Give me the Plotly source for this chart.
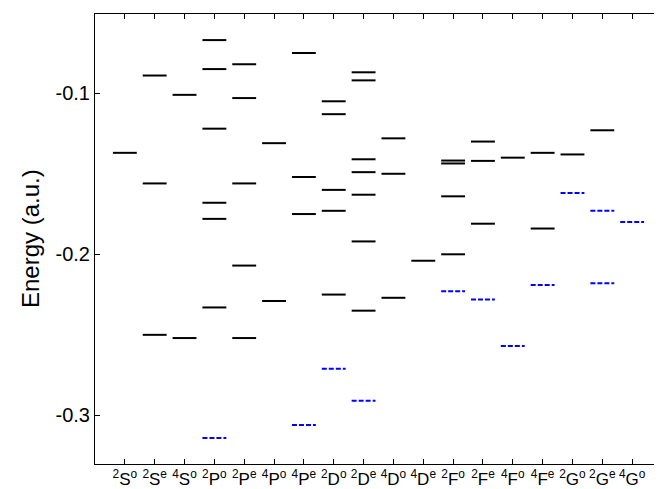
import plotly.graph_objects as go

terms = ["<sup>2</sup>S<sup>o</sup>", "<sup>2</sup>S<sup>e</sup>", "<sup>4</sup>S<sup>o</sup>",
         "<sup>2</sup>P<sup>o</sup>", "<sup>2</sup>P<sup>e</sup>", "<sup>4</sup>P<sup>o</sup>",
         "<sup>4</sup>P<sup>e</sup>", "<sup>2</sup>D<sup>o</sup>", "<sup>2</sup>D<sup>e</sup>",
         "<sup>4</sup>D<sup>o</sup>", "<sup>4</sup>D<sup>e</sup>", "<sup>2</sup>F<sup>o</sup>",
         "<sup>2</sup>F<sup>e</sup>", "<sup>4</sup>F<sup>o</sup>", "<sup>4</sup>F<sup>e</sup>",
         "<sup>2</sup>G<sup>o</sup>", "<sup>2</sup>G<sup>e</sup>", "<sup>4</sup>G<sup>o</sup>"]

# black (solid) levels per term
bound_levels = [
    [-0.137],
    [-0.089, -0.156, -0.250],
    [-0.101, -0.252],
    [-0.067, -0.085, -0.122, -0.168, -0.178, -0.233],
    [-0.082, -0.103, -0.156, -0.207, -0.252],
    [-0.131, -0.229],
    [-0.075, -0.152, -0.175],
    [-0.105, -0.113, -0.160, -0.173, -0.225],
    [-0.087, -0.092, -0.141, -0.149, -0.163, -0.192, -0.235],
    [-0.128, -0.150, -0.227],
    [-0.204],
    [-0.1418, -0.1436, -0.164, -0.200],
    [-0.130, -0.142, -0.181],
    [-0.140],
    [-0.137, -0.184],
    [-0.138],
    [-0.123],
    [],
]

# blue (dashed) levels per term
dashed_levels = [
    [], [], [],
    [-0.314],
    [], [],
    [-0.306],
    [-0.271],
    [-0.291],
    [], [],
    [-0.223],
    [-0.228],
    [-0.257],
    [-0.219],
    [-0.162],
    [-0.173, -0.218],
    [-0.180],
]

half = 0.4


def segments(levels):
    xs, ys = [], []
    for i, lv in enumerate(levels, start=1):
        for v in lv:
            xs += [i - half, i + half, None]
            ys += [v, v, None]
    return xs, ys


fig = go.Figure()
bx, by = segments(bound_levels)
fig.add_trace(go.Scatter(x=bx, y=by, mode="lines",
                         line=dict(color="black", width=2), showlegend=False))
dx, dy = segments(dashed_levels)
fig.add_trace(go.Scatter(x=dx, y=dy, mode="lines",
                         line=dict(color="rgb(0,0,255)", width=2, dash="5px,2px"),
                         showlegend=False))

fig.update_layout(
    width=662, height=489,
    margin=dict(l=87, r=8, t=6, b=33),
    paper_bgcolor="white", plot_bgcolor="white",
    font=dict(family="Liberation Sans, Arial, sans-serif", color="black"),
)
fig.update_xaxes(
    range=[0, 19], tickmode="array", tickvals=list(range(1, 19)), ticktext=terms,
    ticks="inside", ticklen=5, tickcolor="black", tickwidth=1,
    showline=True, linecolor="black", linewidth=1, mirror="ticks",
    showgrid=False, zeroline=False, tickfont=dict(size=17),
)
fig.update_yaxes(
    range=[-0.3302, -0.0508], tickmode="array", tickvals=[-0.3, -0.2, -0.1],
    ticktext=["-0.3", "-0.2", "-0.1"],
    ticks="inside", ticklen=5, tickcolor="black", tickwidth=1,
    showline=True, linecolor="black", linewidth=1, mirror="ticks",
    showgrid=False, zeroline=False, tickfont=dict(size=20),
)
fig.add_annotation(text="Energy (a.u.)", xref="paper", yref="paper",
                   x=(22 - 87) / 567, y=0.5, xanchor="center", yanchor="middle",
                   textangle=-90, showarrow=False, font=dict(size=24))

fig.write_html("out.html")
